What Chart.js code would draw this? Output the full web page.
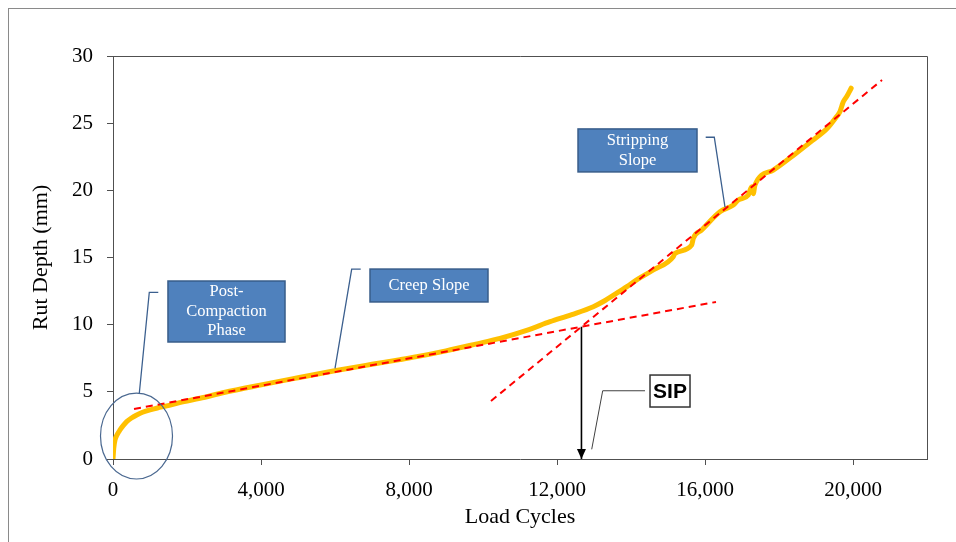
<!DOCTYPE html>
<html><head><meta charset="utf-8">
<script src="https://cdn.jsdelivr.net/npm/chart.js@4.4.1/dist/chart.umd.min.js"></script>
<style>
html,body{margin:0;padding:0;background:#fff;overflow:hidden;}
#wrap{position:relative;width:956px;height:542px;overflow:hidden;}
#frame{position:absolute;left:8px;top:8px;width:1000px;height:600px;border-left:1px solid #8a8a8a;border-top:1px solid #8a8a8a;pointer-events:none;}
canvas{position:absolute;left:0;top:0;}
</style></head><body>
<div id="wrap"><canvas id="c" width="956" height="542"></canvas><div id="frame"></div></div>
<script>
// ---- data ----
const loadCycles = [0, 20, 54, 120, 189, 280, 370, 500, 641, 800, 1000, 1200, 1451, 1800, 2351, 3000, 3973, 5000, 5954, 7000, 7757, 8208, 9000, 9800, 10459, 11200, 11811, 12400, 12981, 13300, 13614, 13900, 14153, 14603, 15143, 15189, 15640, 15684, 15911, 16405, 16765, 16900, 17170, 17262, 17305, 17351, 17846, 18386, 18900, 19300, 19560, 19649, 19700, 19738, 19830, 19950];
const rutDepth = [0, 0.8, 1.41, 1.85, 2.16, 2.5, 2.78, 3.05, 3.28, 3.48, 3.65, 3.8, 3.95, 4.2, 4.52, 4.95, 5.5, 6.05, 6.55, 7.05, 7.4, 7.62, 8.05, 8.55, 8.98, 9.6, 10.22, 10.75, 11.34, 11.8, 12.34, 12.85, 13.33, 14.07, 15.06, 15.31, 15.93, 16.43, 17.05, 18.41, 18.91, 19.28, 19.66, 20.27, 19.75, 20.4, 21.51, 22.6, 23.7, 24.6, 25.5, 25.86, 26.3, 26.6, 26.98, 27.6];
const creepTrendCycles = [568, 16297];
const creepTrendDepth = [3.72, 11.69];
const strippingTrendCycles = [10216, 20784];
const strippingTrendDepth = [4.32, 28.21];
const sipCycles = [12661, 12661];
const sipDepth = [9.85, 0];
const xTickValues = [0, 4000, 8000, 12000, 16000, 20000];
const yTickValues = [0, 5, 10, 15, 20, 25, 30];
const xTitle = 'Load Cycles';
const yTitle = 'Rut Depth (mm)';

// ---- annotation layout (data coordinates) ----
const boxes = [
  {lines:['Post-','Compaction','Phase'], x0:1486, x1:4649, y0:8.71, y1:13.25, leader:[[1224,12.41],[981,12.41],[711,4.89]]},
  {lines:['Creep Slope'], x0:6946, x1:10135, y0:11.69, y1:14.14, leader:[[6695,14.14],[6451,14.14],[6000,6.75]]},
  {lines:['Stripping','Slope'], x0:12568, x1:15784, y0:21.37, y1:24.57, leader:[[16019,23.95],[16251,23.95],[16541,18.74]]}
];
const sipBox = {text:'SIP', x0:14514, x1:15595, y0:3.87, y1:6.25, leader:[[14378,5.08],[13235,5.08],[12938,0.72]]};
const phaseEllipse = {cx:635, cy:1.71, rx:973, ry:3.2};

const axisColor = '#505050';
const textColor = '#000';
const serif = '"Liberation Serif", "Times New Roman", serif';

const pts = (xs, ys) => xs.map((v, i) => ({x: v, y: ys[i]}));

const calloutPlugin = {
  id: 'callouts',
  afterDatasetsDraw(chart) {
    const {ctx, scales: {x, y}, chartArea: a} = chart;
    const px = v => x.getPixelForValue(v), py = v => y.getPixelForValue(v);
    ctx.save();
    // top and right plot frame
    ctx.strokeStyle = axisColor; ctx.lineWidth = 1;
    ctx.beginPath();
    ctx.moveTo(Math.round(a.left), Math.round(a.top) + 0.5);
    ctx.lineTo(Math.round(a.right) + 0.5, Math.round(a.top) + 0.5);
    ctx.lineTo(Math.round(a.right) + 0.5, Math.round(a.bottom));
    ctx.stroke();
    // ellipse
    ctx.strokeStyle = '#4a6890'; ctx.lineWidth = 1.2;
    ctx.beginPath();
    ctx.ellipse(px(phaseEllipse.cx), py(phaseEllipse.cy),
      Math.abs(px(phaseEllipse.cx + phaseEllipse.rx) - px(phaseEllipse.cx)),
      Math.abs(py(phaseEllipse.cy + phaseEllipse.ry) - py(phaseEllipse.cy)), 0, 0, Math.PI * 2);
    ctx.stroke();
    // blue boxes
    boxes.forEach(b => {
      ctx.strokeStyle = '#3b5f8e'; ctx.lineWidth = 1.3;
      ctx.beginPath();
      b.leader.forEach((p, i) => i ? ctx.lineTo(px(p[0]), py(p[1])) : ctx.moveTo(px(p[0]), py(p[1])));
      ctx.stroke();
      const L = px(b.x0), R = px(b.x1), T = py(b.y1), B = py(b.y0);
      ctx.fillStyle = '#4f81bd';
      ctx.fillRect(L, T, R - L, B - T);
      ctx.strokeStyle = '#385d8a'; ctx.lineWidth = 1.5;
      ctx.strokeRect(L, T, R - L, B - T);
      ctx.fillStyle = '#fff';
      ctx.font = '16.5px ' + serif;
      ctx.textAlign = 'center'; ctx.textBaseline = 'middle';
      const lh = 19.5, cy = (T + B) / 2 - (b.lines.length - 1) * lh / 2;
      b.lines.forEach((t, i) => ctx.fillText(t, (L + R) / 2, cy + i * lh));
    });
    // SIP box
    ctx.strokeStyle = '#404040'; ctx.lineWidth = 1;
    ctx.beginPath();
    sipBox.leader.forEach((p, i) => i ? ctx.lineTo(px(p[0]), py(p[1])) : ctx.moveTo(px(p[0]), py(p[1])));
    ctx.stroke();
    {
      const L = px(sipBox.x0), R = px(sipBox.x1), T = py(sipBox.y1), B = py(sipBox.y0);
      ctx.fillStyle = '#fff'; ctx.fillRect(L, T, R - L, B - T);
      ctx.strokeStyle = '#333'; ctx.lineWidth = 1.5; ctx.strokeRect(L, T, R - L, B - T);
      ctx.fillStyle = '#000';
      ctx.font = 'bold 21px "Liberation Sans Narrow", "Liberation Sans", Arial, sans-serif';
      ctx.textAlign = 'center'; ctx.textBaseline = 'middle';
      ctx.fillText(sipBox.text, (L + R) / 2, (T + B) / 2 + 1);
    }
    // arrow head for SIP
    const ax = px(sipCycles[1]), ay = py(sipDepth[1]);
    ctx.fillStyle = '#000';
    ctx.beginPath();
    ctx.moveTo(ax, ay); ctx.lineTo(ax - 4.5, ay - 10); ctx.lineTo(ax + 4.5, ay - 10); ctx.closePath();
    ctx.fill();
    ctx.restore();
  }
};

new Chart(document.getElementById('c'), {
  type: 'scatter',
  data: {
    datasets: [
      {label: 'Rut depth', data: pts(loadCycles, rutDepth), showLine: true, borderColor: '#FFC000', backgroundColor: '#FFC000', borderWidth: 5, pointRadius: 0, cubicInterpolationMode: 'monotone', borderCapStyle: 'round', borderJoinStyle: 'round', order: 3},
      {label: 'Creep slope', data: pts(creepTrendCycles, creepTrendDepth), showLine: true, borderColor: '#FF0000', borderWidth: 2, borderDash: [7, 5], pointRadius: 0, order: 1},
      {label: 'Stripping slope', data: pts(strippingTrendCycles, strippingTrendDepth), showLine: true, borderColor: '#FF0000', borderWidth: 2, borderDash: [7, 5], pointRadius: 0, order: 1},
      {label: 'SIP', data: pts(sipCycles, sipDepth), showLine: true, borderColor: '#000', borderWidth: 1.6, pointRadius: 0, order: 0, clip: false}
    ]
  },
  options: {
    responsive: false, animation: false, devicePixelRatio: 1,
    layout: {padding: {left: 0, top: 56, right: 29, bottom: 0}},
    plugins: {legend: {display: false}, tooltip: {enabled: false}},
    scales: {
      x: {
        type: 'linear', min: 0, max: 22000,
        afterBuildTicks: s => { s.ticks = xTickValues.map(v => ({value: v})); },
        ticks: {font: {family: serif, size: 21}, color: textColor, padding: 13, maxRotation: 0, callback: v => v.toLocaleString('en-US')},
        grid: {display: true, drawOnChartArea: false, drawTicks: true, tickLength: 6, color: axisColor},
        border: {display: true, color: axisColor, width: 1},
        title: {display: true, text: xTitle, font: {family: serif, size: 22}, color: textColor, padding: {top: 0, bottom: 12}},
        afterFit: s => { s.height = 83; }
      },
      y: {
        type: 'linear', min: 0, max: 30,
        afterBuildTicks: s => { s.ticks = yTickValues.map(v => ({value: v})); },
        ticks: {font: {family: serif, size: 21}, color: textColor, padding: 14},
        grid: {display: true, drawOnChartArea: false, drawTicks: true, tickLength: 6, color: axisColor},
        border: {display: true, color: axisColor, width: 1},
        title: {display: true, text: yTitle, font: {family: serif, size: 22}, color: textColor, padding: {top: 28, bottom: 0}},
        afterFit: s => { s.width = 113; }
      }
    }
  },
  plugins: [calloutPlugin]
});
</script>
</body></html>
